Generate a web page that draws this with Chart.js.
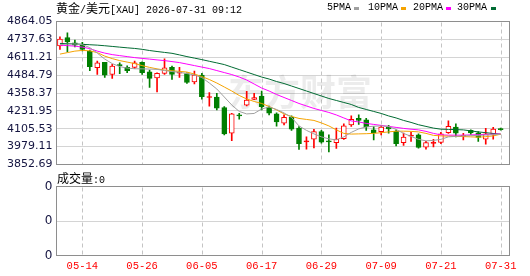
<!DOCTYPE html>
<html><head><meta charset="utf-8">
<script src="https://cdn.jsdelivr.net/npm/chart.js@4.4.1/dist/chart.umd.min.js"></script>
<style>
html,body{margin:0;padding:0;background:#fff;width:530px;height:276px;overflow:hidden;position:relative}
canvas{position:absolute;left:0}
#c1{top:0}
#c2{top:170px}
.t{position:absolute;white-space:pre;color:#000;line-height:14px;z-index:5}
.cjk{font-family:"Noto Sans CJK SC";font-size:12px}
.mono{font-family:"Liberation Mono";font-size:10px}
.sq{position:absolute;width:5px;height:3px;top:7px;z-index:5}
</style></head><body>
<canvas id="c1" width="530" height="180"></canvas>
<canvas id="c2" width="530" height="106"></canvas>
<div class="t" style="left:56px;top:1px"><span class="cjk">黄金</span><span class="mono">/</span><span class="cjk">美元</span><span class="mono">[XAU] 2026-07-31 09:12</span></div>
<div class="t mono" style="left:327px;top:1px">5PMA</div><div class="sq" style="left:354px;background:#a0a0a0"></div>
<div class="t mono" style="left:368px;top:1px">10PMA</div><div class="sq" style="left:401px;background:#f5a300"></div>
<div class="t mono" style="left:413px;top:1px">20PMA</div><div class="sq" style="left:446px;background:#ff00ff"></div>
<div class="t mono" style="left:457px;top:1px">30PMA</div><div class="sq" style="left:491px;background:#006b33"></div>
<div class="t" style="left:57px;top:171px"><span class="cjk">成交量</span><span class="mono">:0</span></div>
<script>
const dates = ['05-11','05-12','05-13','05-14','05-15','05-18','05-19','05-20','05-21','05-22',
 '05-25','05-26','05-27','05-28','05-29','06-01','06-02','06-03','06-04','06-05',
 '06-08','06-09','06-10','06-11','06-12','06-15','06-16','06-17','06-18','06-19',
 '06-22','06-23','06-24','06-25','06-26','06-29','06-30','07-01','07-02','07-03',
 '07-06','07-07','07-08','07-09','07-10','07-13','07-14','07-15','07-16','07-17',
 '07-20','07-21','07-22','07-23','07-24','07-27','07-28','07-29','07-30','07-31'];
const tickDates = ['05-14','05-26','06-05','06-17','06-29','07-09','07-21','07-31'];
const open = [4692.0,4751.2,4713.1,4704.0,4654.6,4536.8,4574.9,4490.3,4557.3,4539.6,
 4539.6,4574.9,4508.6,4464.2,4497.3,4539.6,4499.4,4495.9,4436.0,4485.3,
 4326.6,4330.1,4254.7,4074.2,4203.2,4271.6,4312.5,4337.2,4257.5,4210.3,
 4144.7,4187.0,4109.4,4012.8,4031.8,4085.4,4016.3,4007.9,4035.3,4132.7,
 4178.5,4167.9,4097.5,4085.4,4118.6,4088.3,4007.9,4053.0,4062.2,3975.4,
 4002.2,4009.3,4078.4,4116.5,4051.6,4094.0,4076.3,4031.8,4067.1,4106.6];
const close = [4739.2,4720.2,4696.9,4666.6,4543.9,4572.1,4485.3,4548.8,4552.3,4515.6,
 4572.1,4501.5,4462.1,4497.3,4536.8,4490.3,4502.9,4432.4,4485.3,4332.3,
 4331.5,4250.5,4069.2,4210.3,4196.1,4309.0,4326.6,4261.8,4215.2,4154.0,
 4187.0,4102.4,4000.7,4017.7,4085.4,4010.7,4012.8,4031.8,4125.6,4172.9,
 4164.4,4118.6,4076.3,4116.5,4104.5,4000.7,4045.9,4057.2,3974.0,4007.9,
 4007.2,4069.2,4122.1,4074.2,4056.5,4076.3,4044.5,4069.2,4102.4,4099.6];
const high = [4755.4,4783.6,4732.2,4716.0,4661.6,4584.1,4576.0,4560.8,4572.1,4550.9,
 4584.1,4579.1,4520.6,4501.5,4600.3,4548.8,4539.6,4501.5,4513.6,4497.3,
 4361.9,4356.3,4261.8,4215.2,4215.2,4370.4,4356.3,4372.5,4266.7,4217.3,
 4203.2,4196.1,4120.7,4048.1,4101.0,4094.0,4062.2,4109.4,4139.7,4196.1,
 4203.2,4178.5,4120.7,4129.2,4129.2,4097.5,4074.2,4079.8,4069.2,4016.3,
 4030.4,4079.8,4160.9,4139.7,4072.8,4097.5,4085.4,4108.0,4115.1,4109.4];
const low = [4666.6,4649.6,4684.9,4656.7,4515.6,4490.3,4469.1,4462.1,4494.5,4501.5,
 4532.6,4490.3,4398.6,4365.4,4490.3,4455.0,4469.1,4425.4,4421.9,4314.2,
 4264.5,4238.5,4062.2,4021.9,4172.9,4266.7,4310.4,4238.5,4203.2,4123.5,
 4132.7,4094.0,3959.9,3961.3,3970.5,4003.6,3942.3,3967.0,4030.4,4122.1,
 4136.2,4094.0,4026.9,4062.2,4074.2,3984.6,3988.1,4016.3,3968.4,3961.3,
 3977.6,4000.7,4072.8,4048.1,4026.9,4065.7,4016.3,3997.2,4031.8,4095.4];
const ma5 = [4700.4,4704.0,4705.4,4700.4,4679.3,4640.5,4598.1,4566.4,4545.3,4534.7,
 4529.8,4529.0,4527.6,4525.5,4517.0,4510.0,4504.4,4495.9,4485.3,4467.7,
 4428.9,4386.6,4330.1,4273.7,4227.9,4210.3,4213.8,4245.5,4259.6,4242.0,
 4217.3,4185.6,4125.6,4094.0,4069.2,4048.1,4034.0,4026.9,4048.1,4079.8,
 4104.5,4118.6,4123.5,4125.6,4122.1,4100.9,4072.8,4051.6,4030.4,4019.8,
 4023.3,4030.4,4048.1,4051.6,4055.1,4056.5,4058.7,4060.8,4063.6,4067.1];
const ma10 = [4633.4,4644.0,4654.6,4659.5,4656.7,4644.0,4619.3,4601.7,4587.5,4577.0,
 4566.4,4552.3,4539.6,4529.0,4520.6,4515.6,4511.4,4506.5,4492.4,4474.7,
 4453.6,4428.9,4400.7,4372.5,4340.7,4316.1,4298.4,4284.3,4263.2,4238.5,
 4210.3,4192.6,4178.5,4171.5,4164.4,4146.8,4125.6,4097.5,4072.8,4067.8,
 4069.2,4070.6,4072.8,4077.7,4083.3,4088.3,4088.3,4086.9,4083.3,4072.8,
 4058.7,4055.1,4053.0,4051.6,4050.2,4048.1,4046.0,4049.5,4055.1,4067.1];
const ma20 = [4696.9,4693.4,4689.9,4682.8,4672.2,4654.6,4640.5,4629.9,4622.8,4615.8,
 4608.7,4603.1,4598.1,4592.5,4587.5,4580.5,4573.5,4562.9,4552.3,4541.7,
 4531.2,4517.0,4502.9,4488.8,4471.2,4450.1,4421.9,4393.6,4372.5,4347.8,
 4326.6,4305.5,4284.3,4266.7,4249.1,4234.9,4220.8,4203.2,4182.0,4160.9,
 4153.9,4143.3,4136.2,4129.2,4122.1,4115.1,4108.0,4102.4,4097.5,4086.9,
 4072.8,4062.2,4060.1,4060.1,4060.1,4062.2,4063.6,4065.7,4067.1,4069.2];
const ma30 = [4708.9,4707.5,4705.4,4702.5,4699.7,4696.9,4692.6,4687.7,4682.8,4677.9,
 4673.6,4667.3,4658.8,4651.8,4645.4,4639.1,4627.8,4615.8,4605.2,4594.6,
 4582.6,4571.4,4559.4,4541.7,4524.1,4506.5,4488.8,4471.2,4457.1,4439.5,
 4425.4,4407.7,4390.1,4372.5,4354.8,4337.2,4319.6,4305.5,4291.4,4277.2,
 4256.1,4242.0,4227.9,4213.8,4196.1,4182.0,4164.4,4150.3,4134.0,4122.1,
 4110.1,4102.4,4101.0,4099.6,4097.5,4090.4,4083.3,4077.7,4072.1,4067.1];
const volume = [0,0,0,0,0,0,0,0,0,0, 0,0,0,0,0,0,0,0,0,0, 0,0,0,0,0,0,0,0,0,0,
 0,0,0,0,0,0,0,0,0,0, 0,0,0,0,0,0,0,0,0,0, 0,0,0,0,0,0,0,0,0,0];
const priceTicks = [4864.05,4737.63,4611.21,4484.79,4358.37,4231.95,4105.53,3979.11,3852.69];
const volTicks = [0,1,2,3,4];
const volTickLabels = ['0','0','0','0','0'];

const RED = '#ff0000', GREEN = '#007f00';
const tickIdx = tickDates.map(d => dates.indexOf(d));
const isUp = close.map((c, i) => c >= open[i]);
const X_MIN = -0.46, X_MAX = 60.18;
const labelFont = {family: 'DejaVu Sans', size: 11};
const labelColor = '#141440';

const frame = {id: 'frame', afterDraw(chart) {
  const {ctx, chartArea: a} = chart;
  ctx.save(); ctx.strokeStyle = '#8e8e8e'; ctx.lineWidth = 1;
  ctx.strokeRect(a.left, a.top, a.right - a.left, a.bottom - a.top);
  ctx.restore();
}};
// dashed vertical grid lines at the date ticks, placed through the x scale, behind everything
const vgrid = {id: 'vgrid', afterDraw(chart) {
  const {ctx, chartArea: a} = chart;
  const xs = chart.scales.x;
  ctx.save(); ctx.globalCompositeOperation = 'destination-over';
  ctx.strokeStyle = '#c4c4c4'; ctx.lineWidth = 1; ctx.setLineDash([4, 3]);
  tickIdx.forEach(i => {
    const px = Math.round(xs.getPixelForValue(i)) + 0.5;
    ctx.beginPath(); ctx.moveTo(px, a.top + 1); ctx.lineTo(px, a.bottom); ctx.stroke();
  });
  ctx.restore();
}};
const watermark = {id: 'wm', beforeDatasetsDraw(chart) {
  const {ctx} = chart;
  ctx.save();
  ctx.font = 'bold 36px "Noto Sans CJK SC"';
  ctx.fillStyle = 'rgba(0,0,0,0.075)';
  ctx.textBaseline = 'alphabetic';
  ctx.fillText('东方财富', 228, 106);
  ctx.restore();
}};

function xScale(showLabels) {
  return {
    type: 'linear', min: X_MIN, max: X_MAX, offset: false,
    grid: {display: false, drawTicks: false, offset: false},
    border: {display: false},
    afterBuildTicks: s => { s.ticks = tickIdx.map(v => ({value: v})); },
    ticks: {display: showLabels, autoSkip: false, maxRotation: 0, padding: 4,
      color: '#ff0000', font: {family: 'Liberation Mono', size: 10.5},
      callback: v => dates[v]},
    afterFit: s => { s.height = showLabels ? 20.5 : 0; }
  };
}

new Chart(document.getElementById('c1'), {
  type: 'bar',
  data: {datasets: [
    {type: 'line', data: dates.map((d, i) => ({x: i, y: ma5[i]})), borderColor: '#a0a0a0', borderWidth: 1, pointRadius: 0, tension: 0, order: 1},
    {type: 'line', data: dates.map((d, i) => ({x: i, y: ma10[i]})), borderColor: '#f5a300', borderWidth: 1, pointRadius: 0, tension: 0, order: 1},
    {type: 'line', data: dates.map((d, i) => ({x: i, y: ma20[i]})), borderColor: '#ff00ff', borderWidth: 1, pointRadius: 0, tension: 0, order: 1},
    {type: 'line', data: dates.map((d, i) => ({x: i, y: ma30[i]})), borderColor: '#006b33', borderWidth: 1, pointRadius: 0, tension: 0, order: 1},
    {type: 'bar', data: dates.map((d, i) => ({x: i, y: [open[i], close[i]]})),
      backgroundColor: isUp.map((u, i) => u ? (Math.abs(close[i] - open[i]) < 8 ? RED : '#ffffff') : GREEN),
      borderColor: isUp.map(u => u ? RED : GREEN), borderWidth: 1, borderSkipped: false,
      barThickness: 5, minBarLength: 1, grouped: false, order: 2},
    {type: 'bar', data: dates.map((d, i) => ({x: i, y: [low[i], high[i]]})),
      backgroundColor: isUp.map(u => u ? RED : GREEN), borderWidth: 0,
      barThickness: 1, grouped: false, order: 3}
  ]},
  options: {
    responsive: false, animation: false, devicePixelRatio: 1,
    layout: {padding: {top: 21.5, right: 20.5, bottom: 15.5, left: 0}},
    plugins: {legend: {display: false}, tooltip: {enabled: false}},
    scales: {
      x: xScale(false),
      y: {
        type: 'linear', min: 3852.69, max: 4864.05,
        grid: {color: '#d4d4d4', drawTicks: false},
        border: {display: false},
        afterBuildTicks: s => { s.ticks = priceTicks.map(v => ({value: v})); },
        ticks: {color: labelColor, font: labelFont, padding: 4, callback: v => Number(v).toFixed(2)},
        afterFit: s => { s.width = 56.5; }
      }
    }
  },
  plugins: [vgrid, watermark, frame]
});

new Chart(document.getElementById('c2'), {
  type: 'bar',
  data: {datasets: [
    {data: dates.map((d, i) => ({x: i, y: volume[i]})), backgroundColor: GREEN, barThickness: 5}
  ]},
  options: {
    responsive: false, animation: false, devicePixelRatio: 1,
    layout: {padding: {top: 16.5, right: 20.5, bottom: 0, left: 0}},
    plugins: {legend: {display: false}, tooltip: {enabled: false}},
    scales: {
      x: xScale(true),
      y: {
        type: 'linear', min: 0, max: 4,
        grid: {color: '#d4d4d4', drawTicks: false},
        border: {display: false},
        afterBuildTicks: s => { s.ticks = volTicks.map(v => ({value: v})); },
        ticks: {color: labelColor, font: {family: 'DejaVu Sans', size: 12}, padding: 4,
          callback: (v, idx) => volTickLabels[idx]},
        afterFit: s => { s.width = 56.5; }
      }
    }
  },
  plugins: [vgrid, frame]
});
</script>
</body></html>
